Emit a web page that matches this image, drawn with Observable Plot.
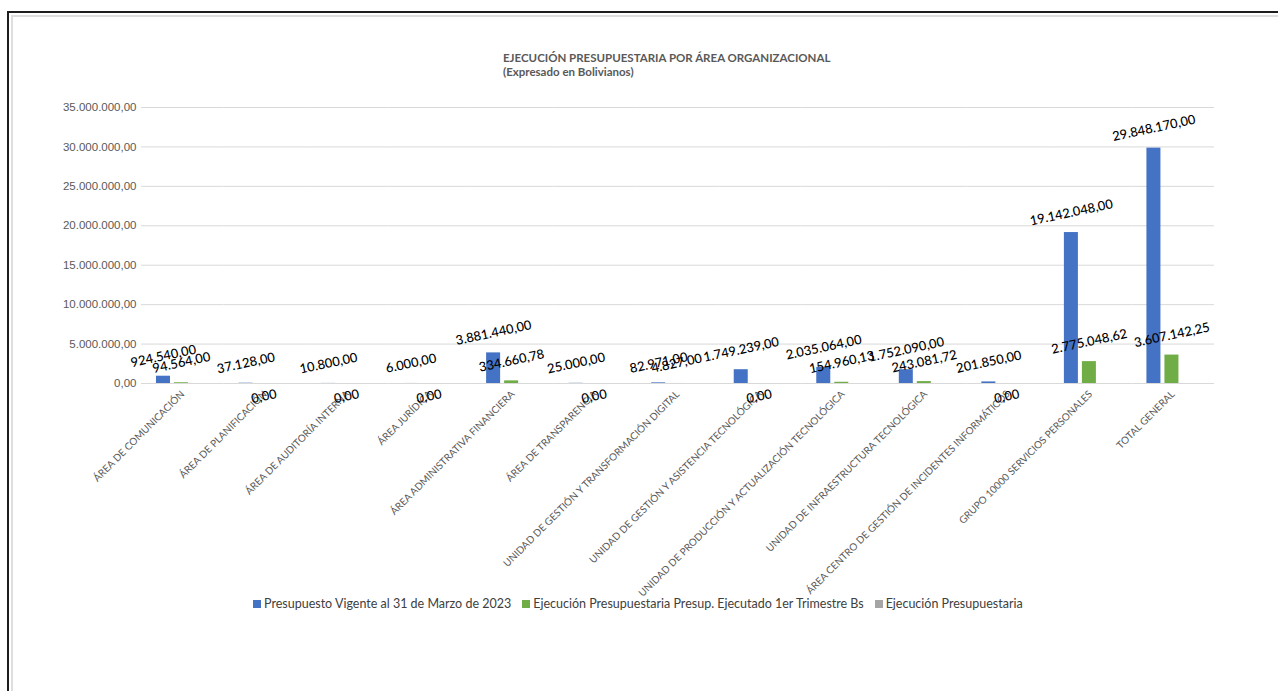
<!DOCTYPE html>
<html>
<head>
<meta charset="utf-8">
<script src="https://cdn.jsdelivr.net/npm/d3@7"></script>
<script src="https://cdn.jsdelivr.net/npm/@observablehq/plot@0.6"></script>
<style>
  html, body { margin: 0; padding: 0; background: #fff; }
  #wrap { position: relative; width: 1278px; height: 691px; overflow: hidden; background: #fff; font-family: Lato, "Open Sans", sans-serif; }
  #outer { position: absolute; left: 7px; top: 11px; width: 1400px; height: 800px; border-top: 2px solid #1e1e1e; border-left: 2px solid #1e1e1e; }
  #inner { position: absolute; left: 11px; top: 15px; width: 1400px; height: 800px; border-top: 2px solid #dedede; border-left: 2px solid #dedede; }
  #chart { position: absolute; left: 0; top: 0; }
  #title { position: absolute; left: 503px; top: 51px; font-family: Lato, sans-serif; font-weight: bold; font-size: 11.5px; line-height: 14px; color: #595959; white-space: nowrap; }
  #legend { position: absolute; left: 253px; top: 596px; font-family: Lato, sans-serif; font-size: 12.5px; color: #404040; white-space: nowrap; display: flex; align-items: center; }
  #legend .item { display: flex; align-items: center; margin-right: 11px; }
  #legend .sw { width: 8px; height: 8px; margin-right: 3px; display: inline-block; }
</style>
</head>
<body>
<div id="wrap">
  <div id="outer"></div>
  <div id="inner"></div>
  <div id="chart"></div>
  <div id="title">EJECUCIÓN PRESUPUESTARIA POR ÁREA ORGANIZACIONAL<br>(Expresado en Bolivianos)</div>
  <div id="legend"></div>
</div>
<script>
const categories = [
  "ÁREA DE COMUNICACIÓN",
  "ÁREA DE PLANIFICACIÓN",
  "ÁREA DE AUDITORÍA INTERNA",
  "ÁREA JURÍDICA",
  "ÁREA ADMINISTRATIVA FINANCIERA",
  "ÁREA DE TRANSPARENCIA",
  "UNIDAD DE GESTIÓN Y TRANSFORMACIÓN DIGITAL",
  "UNIDAD DE GESTIÓN Y ASISTENCIA TECNOLÓGICA",
  "UNIDAD DE PRODUCCIÓN Y ACTUALIZACIÓN TECNOLÓGICA",
  "UNIDAD DE INFRAESTRUCTURA TECNOLÓGICA",
  "ÁREA CENTRO DE GESTIÓN DE INCIDENTES INFORMÁTICOS",
  "GRUPO 10000 SERVICIOS PERSONALES",
  "TOTAL GENERAL"
];
const presupuestoVigente = [924540.00, 37128.00, 10800.00, 6000.00, 3881440.00, 25000.00, 82971.00, 1749239.00, 2035064.00, 1752090.00, 201850.00, 19142048.00, 29848170.00];
const ejecutado = [94564.00, 0, 0, 0, 334660.78, 0, 4827.00, 0, 154960.13, 243081.72, 0, 2775048.62, 3607142.25];
const seriesNames = [
  "Presupuesto Vigente al 31 de Marzo de 2023",
  "Ejecución Presupuestaria Presup. Ejecutado 1er Trimestre Bs",
  "Ejecución Presupuestaria"
];
const seriesColors = ["#4472C4", "#70AD47", "#A5A5A5"];
const yTicks = [0, 5000000, 10000000, 15000000, 20000000, 25000000, 30000000, 35000000];

const loc = d3.formatLocale({decimal: ",", thousands: ".", grouping: [3], currency: ["", ""]});
const fmt = loc.format(",.2f");

const rows = [];
categories.forEach((c, i) => {
  rows.push({cat: c, series: seriesNames[0], value: presupuestoVigente[i]});
  rows.push({cat: c, series: seriesNames[1], value: ejecutado[i]});
});
const nonZero = rows.filter(d => d.value > 0);
const zeros = rows.filter(d => d.value === 0);

const chart = Plot.plot({
  width: 1278,
  height: 600,
  marginLeft: 141,
  marginRight: 64,
  marginTop: 107,
  marginBottom: 217,
  facet: {marginTop: 0, marginBottom: 0, marginLeft: 0, marginRight: 0},
  style: {fontFamily: "Lato", background: "transparent", overflow: "visible"},
  fx: {domain: categories, padding: 0, round: false, label: null},
  x: {domain: seriesNames, paddingInner: 0.222, paddingOuter: 0.903, align: 0.46, round: false, axis: null},
  y: {domain: [0, 35000000]},
  color: {domain: seriesNames, range: seriesColors},
  marks: [
    Plot.ruleY(yTicks, {stroke: "#d9d9d9", strokeWidth: 1}),
    Plot.axisY({ticks: yTicks, tickFormat: fmt, tickSize: 0, tickPadding: 5, fill: "#595959", fontSize: 11.5, fontFamily: "Liberation Sans", label: null}),
    Plot.axisFx({anchor: "bottom", tickRotate: -45, tickSize: 0, tickPadding: 9, fontSize: 10, fill: "#595959", label: null, textAnchor: "end"}),
    Plot.barY(rows, {fx: "cat", x: "series", y: "value", fill: "series"}),
    Plot.text(nonZero, {fx: "cat", x: "series", y: "value", text: d => fmt(d.value), rotate: -12, dy: -20, fontSize: 13, fontWeight: 500, fill: "#000"}),
    Plot.text(zeros, {fx: "cat", x: "series", y: "value", text: d => fmt(d.value), rotate: -12, dy: 13, fontSize: 13, fontWeight: 500, fill: "#000"})
  ]
});
document.getElementById("chart").appendChild(chart);

const legend = document.getElementById("legend");
seriesNames.forEach((s, i) => {
  const item = document.createElement("span");
  item.className = "item";
  const sw = document.createElement("span");
  sw.className = "sw";
  sw.style.background = seriesColors[i];
  item.appendChild(sw);
  item.appendChild(document.createTextNode(s));
  legend.appendChild(item);
});
</script>
</body>
</html>
